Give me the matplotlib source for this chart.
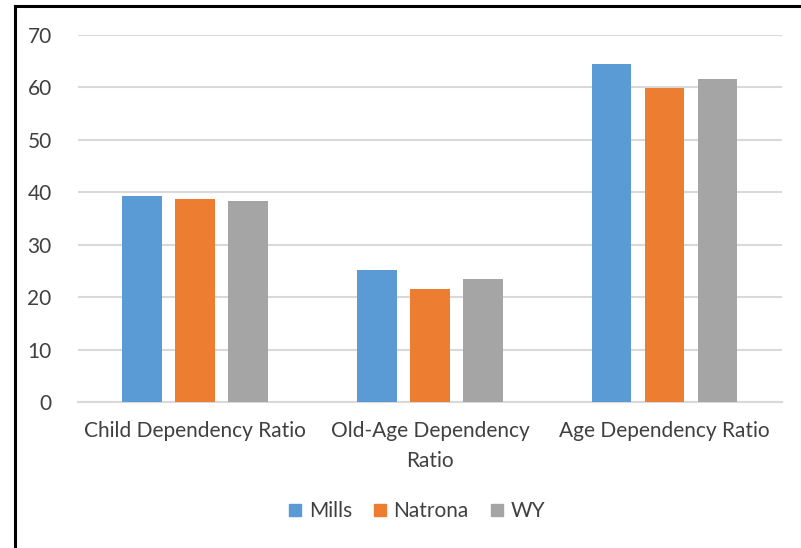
import numpy as np
import matplotlib.pyplot as plt
from matplotlib.lines import Line2D

# Dependency ratios by area
categories = ["Child Dependency Ratio", "Old-Age Dependency\nRatio", "Age Dependency Ratio"]
series_names = ["Mills", "Natrona", "WY"]
mills = [39.3, 25.1, 64.3]
natrona = [38.6, 21.5, 59.8]
wy = [38.3, 23.4, 61.6]
yticks = [0, 10, 20, 30, 40, 50, 60, 70]

colors = ["#5B9BD5", "#ED7D31", "#A5A5A5"]

plt.rcParams['font.family'] = ['Lato', 'DejaVu Sans']

fig = plt.figure(figsize=(8.01, 5.48), dpi=100)
ax = fig.add_axes([0.0974, 0.2664, 0.8786, 0.6706])

x = np.arange(len(categories))
width = 0.17
pitch = 0.226
for i, (vals, name, c) in enumerate(zip([mills, natrona, wy], series_names, colors)):
    ax.bar(x + (i - 1) * pitch, vals, width, color=c, label=name, zorder=3)

ax.set_xlim(-0.5, 2.5)
ax.set_ylim(0, 70)
ax.set_yticks(yticks)
ax.set_xticks(x)
ax.set_xticklabels(categories, fontsize=15, color="#404040", linespacing=1.6)
ax.tick_params(axis="y", labelsize=15, labelcolor="#404040", length=0, pad=19)
ax.tick_params(axis="x", length=0, pad=14)
ax.grid(axis="y", color="#D9D9D9", linewidth=1.5, zorder=0)
for s in ["top", "right", "left"]:
    ax.spines[s].set_visible(False)
ax.spines["bottom"].set_color("#D9D9D9")
ax.spines["bottom"].set_linewidth(1.5)

handles = [Line2D([0], [0], marker="s", linestyle="none", markersize=8,
                  markerfacecolor=c, markeredgecolor=c) for c in colors]
fig.legend(handles, series_names, loc="center", bbox_to_anchor=(0.52, 0.067),
           ncol=3, frameon=False, fontsize=15, handlelength=0.7,
           handletextpad=0.3, columnspacing=1.0, labelcolor="#404040")

# chart frame, top and left edges
fig.add_artist(Line2D([15.5 / 801, 1], [1 - 6 / 548, 1 - 6 / 548],
                      transform=fig.transFigure, color="black", linewidth=2.2))
fig.add_artist(Line2D([15.5 / 801, 15.5 / 801], [0, 1 - 6 / 548],
                      transform=fig.transFigure, color="black", linewidth=2.2))

fig.savefig("out.png", dpi=100)
